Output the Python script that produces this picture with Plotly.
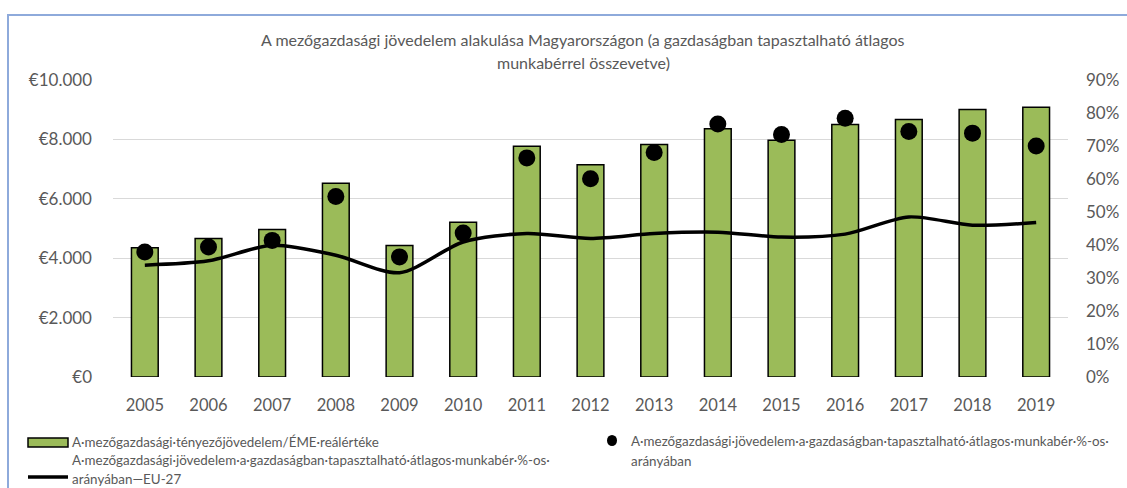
import plotly.graph_objects as go

years = ["2005", "2006", "2007", "2008", "2009", "2010", "2011", "2012",
         "2013", "2014", "2015", "2016", "2017", "2018", "2019"]
income_eur = [4350, 4660, 4970, 6520, 4430, 5210, 7770, 7150,
              7830, 8360, 7970, 8500, 8670, 9010, 9080]
hu_pct = [37.9, 39.4, 41.4, 54.7, 36.4, 43.6, 66.4, 60.1,
          68.0, 76.7, 73.5, 78.4, 74.4, 73.9, 70.0]
eu27_pct = [33.9, 35.2, 39.9, 36.9, 31.6, 40.9, 43.5, 42.0,
            43.5, 43.9, 42.4, 43.3, 48.5, 46.0, 46.8]

title_lines = ["A mezőgazdasági jövedelem alakulása Magyarországon (a gazdaságban tapasztalható átlagos",
               "munkabérrel összevetve)"]
legend_bar = "A·mezőgazdasági·tényezőjövedelem/ÉME·reálértéke"
legend_line = ["A·mezőgazdasági·jövedelem·a·gazdaságban·tapasztalható·átlagos·munkabér·%-os·",
               "arányában—EU-27"]
legend_dot = ["A·mezőgazdasági·jövedelem·a·gazdaságban·tapasztalható·átlagos·munkabér·%-os·",
              "arányában"]

W, H = 1127, 488
L, R, T, B = 113, 1068, 80, 377
GREY = "#595959"
FONT = "Lato"


def px(x):
    return (x - L) / (R - L)


def py(y):
    return (B - y) / (B - T)


fig = go.Figure()
fig.add_trace(go.Bar(
    x=years, y=income_eur, width=0.42,
    marker=dict(color="#9BBB59", line=dict(color="#000000", width=1.5)),
    showlegend=False, hoverinfo="y"))
fig.add_trace(go.Scatter(
    x=years, y=eu27_pct, yaxis="y2", mode="lines",
    line=dict(color="#000000", width=3.5, shape="spline", smoothing=0.8),
    showlegend=False))
fig.add_trace(go.Scatter(
    x=years, y=hu_pct, yaxis="y2", mode="markers",
    marker=dict(color="#000000", size=17),
    showlegend=False))

annotations = []
for i, t in enumerate(title_lines):
    annotations.append(dict(text=t, xref="paper", yref="paper", x=px(583), y=py(40 + 22 * i),
                            xanchor="center", yanchor="middle", showarrow=False,
                            font=dict(family=FONT, size=16, color=GREY)))
leg_font = dict(family=FONT, size=13.4, color=GREY)
annotations.append(dict(text=legend_bar, xref="paper", yref="paper", x=px(70), y=py(442),
                        xanchor="left", yanchor="middle", showarrow=False, font=leg_font))
for i, t in enumerate(legend_line):
    annotations.append(dict(text=t, xref="paper", yref="paper", x=px(70), y=py(460 + 19 * i),
                            xanchor="left", yanchor="middle", showarrow=False, font=leg_font))
for i, t in enumerate(legend_dot):
    annotations.append(dict(text=t, xref="paper", yref="paper", x=px(629), y=py(441 + 20 * i),
                            xanchor="left", yanchor="middle", showarrow=False, font=leg_font))

shapes = [
    dict(type="rect", xref="paper", yref="paper", x0=px(8), x1=px(1140), y0=py(500), y1=py(15),
         line=dict(color="#8EAADB", width=2), fillcolor="rgba(0,0,0,0)", layer="below"),
    dict(type="rect", xref="paper", yref="paper", x0=px(28), x1=px(68), y0=py(447), y1=py(438),
         line=dict(color="#000000", width=1.5), fillcolor="#9BBB59"),
    dict(type="line", xref="paper", yref="paper", x0=px(28), x1=px(68), y0=py(477), y1=py(477),
         line=dict(color="#000000", width=3.5)),
    dict(type="circle", xref="paper", yref="paper", x0=px(607), x1=px(617), y0=py(446), y1=py(435),
         line=dict(color="#000000", width=0), fillcolor="#000000"),
]

fig.update_layout(
    width=W, height=H,
    margin=dict(l=L, r=W - R, t=T, b=H - B, pad=0, autoexpand=False),
    paper_bgcolor="white", plot_bgcolor="white",
    separators=",.",
    font=dict(family=FONT, color=GREY, size=17),
    bargap=0.58,
    xaxis=dict(type="category", range=[-0.5, len(years) - 0.5], showgrid=False, showline=False,
               zeroline=False, automargin=False,
               ticks="", tickfont=dict(size=16.5, color=GREY, family=FONT), ticklabelstandoff=16),
    yaxis=dict(range=[0, 10000], dtick=2000, tickprefix="€", tickformat=",d", automargin=False,
               showgrid=True, gridcolor="#D9D9D9", gridwidth=1, zeroline=False,
               showline=False, ticks="", ticklabelstandoff=20,
               tickfont=dict(size=17, color=GREY, family=FONT)),
    yaxis2=dict(range=[0, 90], dtick=10, ticksuffix="%", overlaying="y", side="right", automargin=False,
                showgrid=False, zeroline=False, showline=False, ticks="", ticklabelstandoff=17,
                tickfont=dict(size=17, color=GREY, family=FONT)),
    annotations=annotations,
    shapes=shapes,
)

fig.write_html("out.html", config={"displayModeBar": False},
               post_script="document.body.style.margin='0';document.body.style.overflow='hidden';")
